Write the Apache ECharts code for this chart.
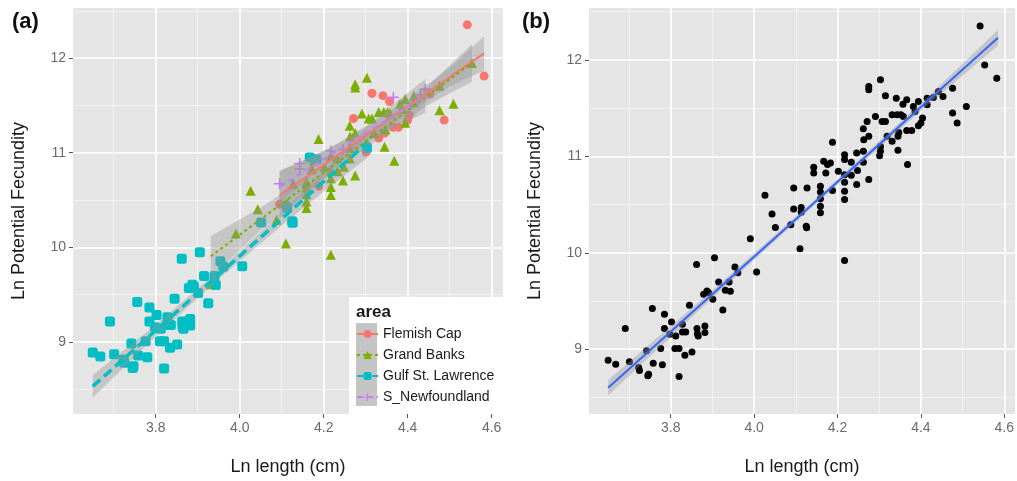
<!DOCTYPE html>
<html>
<head>
<meta charset="utf-8">
<script src="https://cdn.jsdelivr.net/npm/echarts@6/dist/echarts.min.js"></script>
<style>
  html, body { margin: 0; padding: 0; background: #fff; }
  #chart { width: 1017px; height: 481px; }
</style>
</head>
<body>
<div id="chart"></div>
<script>
// ---- data (ln length, ln potential fecundity) ----
const areaNames = ['Flemish Cap', 'Grand Banks', 'Gulf St. Lawrence', 'S_Newfoundland']

const flemishX = [4.095, 4.188, 4.271, 4.301, 4.315, 4.331, 4.341, 4.345, 4.357, 4.366, 4.378, 4.400, 4.404, 4.453, 4.487, 4.542, 4.582]
const flemishY = [10.455, 10.645, 11.362, 11.007, 11.628, 11.155, 11.603, 11.207, 11.541, 11.269, 11.269, 11.345, 11.397, 11.621, 11.345, 12.352, 11.810]

const grandX = [3.931, 3.991, 4.026, 4.043, 4.088, 4.110, 4.113, 4.127, 4.159, 4.159, 4.159, 4.159, 4.159, 4.172, 4.176, 4.188, 4.202,
  4.217, 4.217, 4.217, 4.217, 4.217, 4.217, 4.233, 4.233, 4.246, 4.248, 4.262, 4.262, 4.262, 4.263, 4.275, 4.275, 4.275, 4.275,
  4.291, 4.303, 4.303, 4.307, 4.315, 4.319, 4.331, 4.343, 4.345, 4.347, 4.352, 4.358, 4.368, 4.382, 4.386, 4.394, 4.394, 4.415,
  4.415, 4.476, 4.476, 4.509, 4.553]
const grandY = [9.610, 10.145, 10.597, 10.403, 10.290, 10.041, 10.469, 10.672, 10.690, 10.631, 10.560, 10.483, 10.414, 10.828, 10.914, 11.145, 10.845,
  10.966, 10.810, 10.731, 10.638, 10.552, 9.921, 10.938, 10.803, 10.707, 10.852, 11.286, 10.938, 11.052, 11.172, 11.724, 11.690, 10.759, 11.207,
  11.414, 11.793, 11.103, 11.362, 11.362, 11.207, 11.431, 11.431, 11.062, 11.248, 11.431, 11.414, 10.914, 11.517, 11.466, 11.569, 11.317, 11.603,
  11.534, 11.707, 11.448, 11.517, 11.948]

const gulfX = [3.650, 3.668, 3.691, 3.701, 3.723, 3.725, 3.745, 3.747, 3.742, 3.756, 3.758, 3.776, 3.780, 3.785, 3.785, 3.802, 3.798,
  3.810, 3.812, 3.820, 3.820, 3.828, 3.828, 3.836, 3.834, 3.845, 3.851, 3.862, 3.863, 3.864, 3.866, 3.882, 3.882, 3.879, 3.887,
  3.891, 3.901, 3.905, 3.915, 3.925, 3.943, 3.940, 3.954, 3.961, 4.006, 4.051, 4.113, 4.125, 4.126, 4.167, 4.183, 4.303]
const gulfY = [8.886, 8.845, 9.214, 8.869, 8.810, 8.780, 8.724, 8.741, 8.983, 9.421, 8.855, 9.007, 8.838, 9.362, 9.214, 9.283, 9.155,
  9.007, 9.138, 9.007, 8.717, 9.259, 9.179, 9.179, 8.938, 9.455, 8.972, 9.879, 9.214, 9.160, 9.138, 9.241, 9.172, 9.569, 9.603,
  9.586, 9.517, 9.948, 9.697, 9.407, 9.600, 9.697, 9.852, 9.793, 9.800, 10.262, 10.421, 10.276, 10.259, 10.948, 10.931, 11.052]

const newfX = [4.095, 4.143, 4.143, 4.217, 4.246, 4.366, 4.430, 4.442]
const newfY = [10.672, 10.886, 10.828, 11.017, 11.034, 11.586, 11.610, 11.672]

// fitted lines (end points) and confidence bands
const flemishFitX = [4.095, 4.582]
const flemishFitY = [10.55, 12.05]
const flemishBandX = [4.095, 4.25, 4.40, 4.50, 4.582]
const flemishBandLo = [10.30, 10.93, 11.42, 11.70, 11.87]
const flemishBandHi = [10.80, 11.13, 11.56, 11.90, 12.23]

const grandFitX = [3.931, 4.553]
const grandFitY = [9.905, 11.95]
const grandBandX = [3.931, 4.05, 4.25, 4.45, 4.553]
const grandBandLo = [9.68, 10.18, 10.89, 11.51, 11.75]
const grandBandHi = [10.12, 10.42, 11.01, 11.71, 12.15]

const gulfFitX = [3.650, 4.303]
const gulfFitY = [8.53, 11.10]
const gulfBandX = [3.650, 3.80, 3.95, 4.10, 4.20, 4.303]
const gulfBandLo = [8.41, 9.06, 9.665, 10.23, 10.59, 10.94]
const gulfBandHi = [8.65, 9.18, 9.755, 10.37, 10.81, 11.26]

const newfFitX = [4.095, 4.442]
const newfFitY = [10.64, 11.60]
const newfBandX = [4.095, 4.20, 4.30, 4.442]
const newfBandLo = [10.47, 10.85, 11.14, 11.42]
const newfBandHi = [10.81, 11.01, 11.28, 11.78]

// panel (b): pooled fit
const pooledFitX = [3.650, 4.585]
const pooledFitY = [8.60, 12.23]
const pooledBandX = [3.650, 3.90, 4.15, 4.40, 4.585]
const pooledBandLo = [8.52, 9.53, 10.515, 11.47, 12.15]
const pooledBandHi = [8.68, 9.61, 10.567, 11.55, 12.31]

const xTicks = [3.8, 4.0, 4.2, 4.4, 4.6]
const yTicks = [9, 10, 11, 12]

const colors = ['#F8766D', '#7CAE00', '#00BFC4', '#C77CFF']
const plusPath = 'path://M4.3,0H5.7V10H4.3Z M0,4.3H10V5.7H0Z'
const FONT = 'Liberation Sans, Arial, sans-serif'

const zip = (xs, ys) => xs.map((x, i) => [x, ys[i]])

const chart = echarts.init(document.getElementById('chart'))

function band (xs, lo, hi, gi) {
  const data = xs.map((x, i) => [x, lo[i], hi[i]])
  return {
    type: 'custom',
    xAxisIndex: gi,
    yAxisIndex: gi,
    silent: true,
    z: 3,
    data: data,
    encode: { x: 0, y: [1, 2] },
    renderItem: function (params, api) {
      if (params.dataIndex !== 0) return
      const top = data.map(d => api.coord([d[0], d[2]]))
      const bottom = data.map(d => api.coord([d[0], d[1]])).reverse()
      return {
        type: 'polygon',
        shape: { points: top.concat(bottom) },
        style: { fill: 'rgba(150,150,150,0.4)' }
      }
    }
  }
}

function xAxis (gi, min, max) {
  return {
    type: 'value',
    gridIndex: gi,
    min: min,
    max: max,
    name: 'Ln length (cm)',
    nameLocation: 'middle',
    nameGap: 44,
    nameTextStyle: { fontSize: 18, color: '#1a1a1a', fontFamily: FONT },
    axisLine: { show: false },
    axisTick: { show: true, length: 4, customValues: xTicks, lineStyle: { color: '#555', width: 1 } },
    axisLabel: {
      customValues: xTicks,
      margin: 7,
      fontSize: 14,
      color: '#6b6b6b',
      fontFamily: FONT,
      formatter: v => Math.abs(v * 5 - Math.round(v * 5)) < 1e-6 ? v.toFixed(1) : ''
    },
    splitLine: { show: true, lineStyle: { color: '#ffffff', width: 1.6 } },
    minorTick: { show: false, splitNumber: 2 },
    minorSplitLine: { show: true, lineStyle: { color: '#f5f5f5', width: 0.8 } }
  }
}

function yAxis (gi, min, max) {
  return {
    type: 'value',
    gridIndex: gi,
    min: min,
    max: max,
    name: 'Ln Potential Fecundity',
    nameLocation: 'middle',
    nameGap: 45,
    nameTextStyle: { fontSize: 18, color: '#1a1a1a', fontFamily: FONT },
    axisLine: { show: false },
    axisTick: { show: true, length: 4, customValues: yTicks, lineStyle: { color: '#555', width: 1 } },
    axisLabel: {
      customValues: yTicks,
      margin: 7,
      fontSize: 14,
      color: '#6b6b6b',
      fontFamily: FONT,
      formatter: v => Math.abs(v - Math.round(v)) < 1e-6 ? String(Math.round(v)) : ''
    },
    splitLine: { show: true, lineStyle: { color: '#ffffff', width: 1.6 } },
    minorTick: { show: false, splitNumber: 2 },
    minorSplitLine: { show: true, lineStyle: { color: '#f5f5f5', width: 0.8 } }
  }
}

const groupPts = [zip(flemishX, flemishY), zip(grandX, grandY), zip(gulfX, gulfY), zip(newfX, newfY)]
const groupFits = [zip(flemishFitX, flemishFitY), zip(grandFitX, grandFitY), zip(gulfFitX, gulfFitY), zip(newfFitX, newfFitY)]
const groupBands = [
  [flemishBandX, flemishBandLo, flemishBandHi],
  [grandBandX, grandBandLo, grandBandHi],
  [gulfBandX, gulfBandLo, gulfBandHi],
  [newfBandX, newfBandLo, newfBandHi]
]
const symbols = ['circle', 'triangle', 'roundRect', plusPath]
const symbolSizes = [9, 10, 10, 11]
const lineTypes = ['solid', [3, 3], [10, 5], [6, 4]]
const lineWidths = [2, 2, 3.5, 2]

const series = []

// regression lines first so the legend takes their icons
areaNames.forEach((name, i) => {
  series.push({
    type: 'line',
    name: name,
    xAxisIndex: 0,
    yAxisIndex: 0,
    data: groupFits[i],
    showSymbol: false,
    symbol: symbols[i],
    symbolSize: symbolSizes[i],
    z: 5,
    silent: true,
    itemStyle: { color: colors[i] },
    lineStyle: { color: colors[i], width: lineWidths[i], type: lineTypes[i] }
  })
})

areaNames.forEach((name, i) => {
  series.push({
    type: 'scatter',
    name: name + ' points',
    xAxisIndex: 0,
    yAxisIndex: 0,
    data: groupPts[i],
    symbol: symbols[i],
    symbolSize: symbolSizes[i],
    z: 2,
    itemStyle: { color: colors[i], opacity: 1 }
  })
  series.push(band(groupBands[i][0], groupBands[i][1], groupBands[i][2], 0))
})

// panel (b): all fish pooled
series.push({
  type: 'scatter',
  name: 'all',
  xAxisIndex: 1,
  yAxisIndex: 1,
  data: [].concat(...groupPts),
  symbol: 'circle',
  symbolSize: 7,
  z: 2,
  itemStyle: { color: '#000', opacity: 1 }
})
series.push(band(pooledBandX, pooledBandLo, pooledBandHi, 1))
series.push({
  type: 'line',
  name: 'pooled fit',
  xAxisIndex: 1,
  yAxisIndex: 1,
  data: zip(pooledFitX, pooledFitY),
  showSymbol: false,
  z: 5,
  silent: true,
  lineStyle: { color: '#3366FF', width: 2 }
})

const option = {
  animation: false,
  backgroundColor: '#ffffff',
  grid: [
    { left: 73, top: 8, width: 430, height: 407, show: true, backgroundColor: '#e5e5e5', borderWidth: 0 },
    { left: 589, top: 8, width: 430, height: 407, show: true, backgroundColor: '#e5e5e5', borderWidth: 0 }
  ],
  xAxis: [xAxis(0, 3.603, 4.627), xAxis(1, 3.604, 4.626)],
  yAxis: [yAxis(0, 8.237, 12.53), yAxis(1, 8.328, 12.538)],
  legend: {
    data: areaNames,
    left: 349,
    top: 297,
    orient: 'vertical',
    padding: [30, 6, 8, 7],
    itemWidth: 21,
    itemHeight: 10,
    itemGap: 7,
    z: 10,
    textStyle: { fontSize: 14, color: '#1a1a1a', fontFamily: FONT }
  },
  graphic: [
    { type: 'rect', z: 8, shape: { x: 349, y: 297, width: 154, height: 117 }, style: { fill: '#ffffff' } },
    { type: 'rect', z: 9, shape: { x: 356, y: 323, width: 21, height: 83 }, style: { fill: '#c4c4c4' } },
    { type: 'text', z: 11, left: 356, top: 304, style: { text: 'area', fontSize: 17, fontWeight: 'bold', fill: '#1a1a1a', fontFamily: FONT } },
    { type: 'text', left: 12, top: 11, style: { text: '(a)', fontSize: 22, fontWeight: 'bold', fill: '#111', fontFamily: FONT } },
    { type: 'text', left: 522, top: 11, style: { text: '(b)', fontSize: 22, fontWeight: 'bold', fill: '#111', fontFamily: FONT } }
  ],
  series: series
}

chart.setOption(option)
</script>
</body>
</html>
